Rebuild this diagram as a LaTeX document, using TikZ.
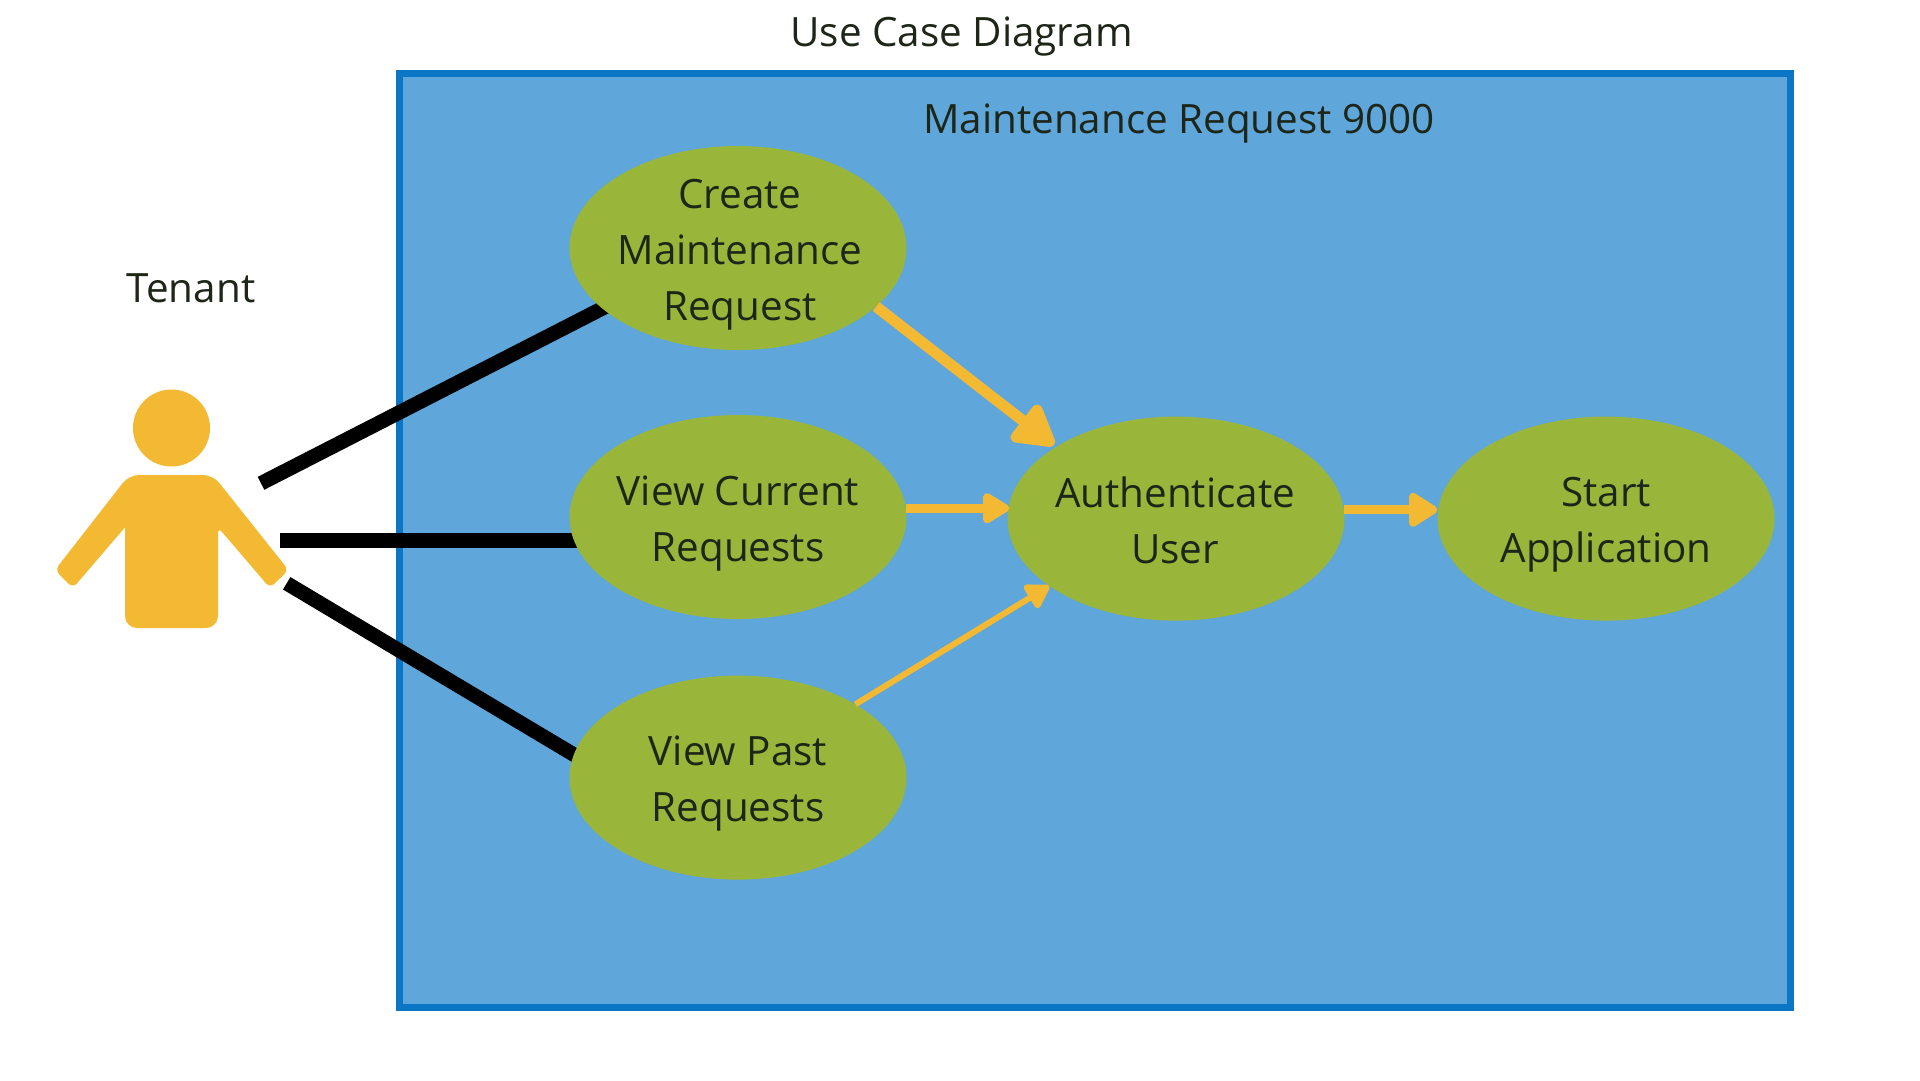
\documentclass[tikz,border=0pt]{standalone}
\usepackage{fontspec}
\setmainfont{Open Sans}
\usetikzlibrary{shapes.geometric,arrows.meta}
\definecolor{sysfill}{HTML}{5FA6DB}
\definecolor{sysline}{HTML}{0B76C6}
\definecolor{ucgreen}{HTML}{99B63B}
\definecolor{actor}{HTML}{F3B933}
\definecolor{ink}{HTML}{1E2618}
\pgfdeclarelayer{bg}\pgfdeclarelayer{conn}\pgfsetlayers{bg,conn,main}
\tikzset{
  usecase/.style={ellipse,fill=ucgreen,minimum width=337pt,minimum height=204pt,inner sep=0pt},
  uctext/.style={align=center,text=ink,font=\fontsize{40.4}{56}\selectfont,inner sep=0pt},
  plaintext/.style={text=ink,font=\fontsize{40.4}{56}\selectfont,inner sep=0pt},
  assoc/.style={line width=14.5pt,draw=black,shorten >=-8pt},
  flow/.style={draw=actor,line width=#1},
}
\begin{document}
\begin{tikzpicture}[x=1pt,y=-1pt]
\useasboundingbox (0,0) rectangle (1920,1080);
\begin{pgfonlayer}{bg}
\fill[white] (0,0) rectangle (1920,1080);
\node[draw=sysline,fill=sysfill,line width=7pt,minimum width=1390.5pt,minimum height=934pt,inner sep=0pt,anchor=north west] (system) at (396,69.5) {};
\end{pgfonlayer}
\node[plaintext] (title) at (961.5,36.5) {Use Case Diagram};
\node[plaintext] (sysname) at (1179,124) {Maintenance Request 9000};
\node[plaintext] (tenant) at (191,288) {Tenant};
\node[usecase,label={[uctext,xshift=2pt,yshift=-7pt]center:{Create\\Maintenance\\Request}}] (create) at (738,248) {};
\node[usecase,label={[uctext,yshift=-7pt]center:{View Current\\Requests}}] (current) at (738,517) {};
\node[usecase,label={[uctext,yshift=-6pt]center:{View Past\\Requests}}] (past) at (738,777.6) {};
\node[usecase,label={[uctext,xshift=-1pt,yshift=-2pt]center:{Authenticate\\User}}] (auth) at (1176,518.6) {};
\node[usecase,label={[uctext,yshift=-6pt]center:{Start\\Application}}] (start) at (1606,518.6) {};
% actor
\node[circle,fill=actor,minimum size=77pt,inner sep=0pt] (head) at (171.5,428) {};
\fill[actor,rounded corners=6pt] (125,527.3) -- (73,588) -- (55,570) [rounded corners=10pt] -- (129,475) -- (213,475) [rounded corners=6pt] -- (288.5,570) -- (270,588) -- (218,527.3) [sharp corners] -- (218,580) [rounded corners=12pt] -- (218,628) -- (125,628) [sharp corners] -- cycle;
\coordinate (a1) at (261,483.3);
\coordinate (a2) at (280,540);
\coordinate (a3) at (286.7,583.3);
\begin{pgfonlayer}{conn}
\draw[assoc] (a1) -- (create.204.7);
\draw[assoc,line width=15pt,shorten >=-12pt] (a2) -- (a2 -| current.west);
\draw[assoc] (a3) -- (past.172);
\end{pgfonlayer}
\draw[flow=11pt,shorten >=3pt,-{Triangle[length=46pt,width=50pt,round]}] (create.-23) -- (auth.149.4);
\draw[flow=9pt,shorten >=-2pt,-{Triangle[length=30pt,width=34pt,round]}] (current.3) -- (current.3 -| auth.west);
\draw[flow=6pt,-{Triangle[length=26pt,width=30pt,round]}] (past.32.5) -- (auth.208);
\draw[flow=9pt,-{Triangle[length=32pt,width=38pt,round]}] (auth.3.4) -- (auth.3.4 -| start.west);
\end{tikzpicture}
\end{document}
